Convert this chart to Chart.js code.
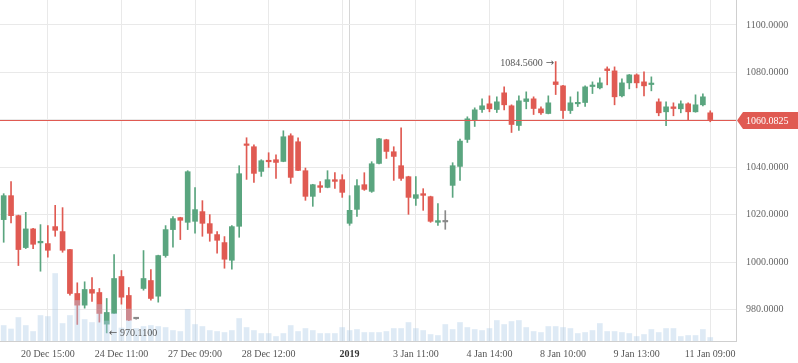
<!DOCTYPE html>
<html>
<head>
<meta charset="utf-8">
<script src="https://cdn.jsdelivr.net/npm/chart.js@4.4.1/dist/chart.umd.min.js"></script>
<style>
html,body{margin:0;padding:0;background:#fff;}
canvas{display:block;}
</style>
</head>
<body>
<canvas id="c" width="798" height="363"></canvas>
<script>
// ---- data ----
const slotCount = 100;
const categories = Array.from({length: slotCount}, (_, i) => String(i));

const tickIndex = [6, 16, 26, 36, 46, 47, 56, 66, 76, 86, 96];
const tickText  = ['20 Dec 15:00', '24 Dec 11:00', '27 Dec 09:00', '28 Dec 12:00', '', '2019',
                   '3 Jan 11:00', '4 Jan 14:00', '8 Jan 10:00', '9 Jan 13:00', '11 Jan 09:00'];
const yearTickIndex = 47;
const yTicks = [980, 1000, 1020, 1040, 1060, 1080, 1100];

const open = [
1017.90,1028.00,1019.58,1006.11,1013.98,1008.09,1007.79,1014.95,1012.85,1005.27,
986.74,981.82,988.43,987.16,973.81,978.32,993.90,985.90,976.09,988.85,
992.21,985.60,1002.74,1013.69,1018.74,1016.76,1017.18,1021.27,1016.21,1011.58,
1008.21,1000.76,1015.08,1049.48,1048.64,1038.24,1042.74,1043.16,1042.44,1053.27,
1050.74,1038.53,1027.71,1032.21,1031.50,1034.74,1034.74,1016.34,1022.23,1032.63,
1029.81,1041.60,1051.58,1046.53,1040.64,1036.00,1026.86,1028.84,1027.58,1016.76,
1016.93,1032.34,1040.34,1051.71,1060.00,1064.34,1066.74,1064.34,1071.37,1065.90,
1057.60,1067.71,1068.84,1064.63,1062.66,1076.00,1074.32,1063.92,1066.74,1067.29,
1074.03,1073.47,1081.47,1080.63,1070.11,1075.58,1078.95,1076.00,1074.87,1067.58,
1063.37,1065.47,1064.63,1066.74,1063.37,1066.32,1062.95
];
const high = [
1028.84,1033.90,1019.80,1020.97,1014.20,1015.79,1015.37,1023.92,1022.95,1005.40,
991.25,991.67,993.48,988.85,984.64,1003.16,996.43,989.27,976.30,1004.85,
996.85,1002.90,1015.37,1019.16,1018.90,1038.53,1031.37,1025.90,1020.00,1012.85,
1010.74,1015.37,1040.64,1052.43,1049.48,1043.16,1046.11,1045.27,1055.37,1054.11,
1052.43,1039.66,1032.80,1033.90,1038.53,1037.69,1036.84,1028.00,1034.74,1037.69,
1042.32,1052.20,1051.80,1048.64,1056.63,1036.20,1036.00,1030.95,1027.80,1024.63,
1021.69,1041.90,1051.87,1061.26,1065.05,1068.84,1070.11,1069.69,1073.89,1066.32,
1070.11,1071.79,1069.69,1065.47,1070.11,1084.56,1074.50,1069.69,1071.79,1074.32,
1076.00,1077.68,1082.32,1082.32,1077.26,1079.10,1079.37,1080.21,1078.11,1068.84,
1067.58,1067.16,1068.00,1067.16,1070.53,1070.95,1063.79
];
const low = [
1008.34,1016.51,998.53,1005.69,1005.69,996.13,1002.03,1010.87,1004.13,986.03,
973.69,980.55,983.37,974.66,970.11,978.20,982.24,975.30,975.90,988.13,
983.92,983.08,1002.03,1006.24,1009.48,1013.69,1012.13,1010.87,1008.76,1003.71,
997.39,996.97,1010.45,1034.87,1033.60,1036.13,1039.92,1035.29,1042.30,1033.18,
1038.50,1026.03,1023.50,1029.39,1031.30,1031.07,1027.28,1015.50,1019.29,1030.23,
1029.39,1041.40,1043.71,1034.44,1034.44,1020.13,1023.92,1021.81,1016.76,1015.50,
1013.81,1027.28,1034.44,1050.44,1057.18,1063.07,1063.37,1063.07,1064.21,1054.65,
1055.50,1064.63,1062.23,1062.23,1062.50,1070.65,1060.55,1062.66,1065.60,1065.60,
1071.07,1073.05,1074.74,1066.32,1069.69,1073.05,1073.47,1070.11,1072.21,1061.69,
1057.48,1061.69,1062.95,1060.00,1063.20,1065.90,1059.16
];
const close = [
1028.00,1019.58,1005.27,1013.98,1007.50,1008.76,1004.97,1013.39,1004.97,986.74,
981.82,988.43,986.87,978.32,978.74,993.06,985.18,975.50,976.09,993.06,
984.64,1002.74,1013.69,1018.32,1017.60,1038.11,1022.11,1016.34,1012.13,1009.18,
1001.18,1014.95,1037.27,1049.20,1037.40,1042.74,1042.30,1042.02,1052.85,1035.71,
1038.65,1027.71,1032.63,1031.50,1034.74,1034.03,1029.39,1021.81,1032.21,1030.65,
1041.47,1052.00,1046.66,1044.55,1035.29,1027.28,1028.42,1028.13,1017.18,1017.47,
1016.93,1040.64,1051.03,1060.42,1064.21,1065.90,1064.63,1067.58,1066.32,1058.02,
1068.00,1068.84,1064.76,1062.95,1067.16,1074.87,1063.92,1067.16,1067.16,1073.89,
1074.32,1075.58,1080.76,1069.69,1075.58,1078.95,1075.58,1074.32,1075.45,1062.95,
1065.47,1064.76,1066.74,1063.37,1066.32,1069.69,1060.0825
];
const volume = [
15.5,12,23.5,15.5,9.5,25.5,24.5,67.5,17.5,25.5,
40.5,21.5,18.5,36.5,20,27.5,13,32,12.5,14.5,
15.5,14.5,13.5,10.5,9.5,31.5,16.5,14.5,10.5,9.5,
8.5,10.5,22.5,13.5,10.5,7.5,7.5,4.5,7.5,15.5,
9.5,12.5,10.5,7.5,7.5,7.5,13.5,10.5,11.5,8.5,
8.5,8.5,9.5,12.5,12.5,18.5,12.5,10.5,6.5,5.5,
16.5,11.5,18.5,13.5,11.5,10.5,12.5,20.5,16.5,19.5,
20.5,13.5,9.5,8.5,14.5,14.5,13.5,12.5,7.5,8.5,
10.5,17.5,9.5,9.5,8.5,7.5,4.5,6.5,11.5,8.5,
12.5,12.5,4.5,5.5,5.5,11.5,3.5
];
const volumeAxisMax = 341;
const priceMin = 966.7, priceMax = 1110.53;

// ---- styles ----
const UP = '#5aa57f', DOWN = '#e05a52', FLAT = '#8a8a8a';
const FONT = '"Liberation Serif", "Times New Roman", serif';
const candleColor = open.map((o, i) => close[i] > o ? UP : (close[i] < o ? DOWN : FLAT));

const tickMap = {};
tickIndex.forEach((ix, k) => tickMap[ix] = tickText[k]);

function noPad(s) {
  s.paddingTop = 0; s.paddingBottom = 0; s.paddingLeft = 0; s.paddingRight = 0;
}

const marksPlugin = {
  id: 'marks',
  afterDatasetsDraw(chart) {
    const {ctx, chartArea, scales: {x, y}} = chart;
    const last = close[close.length - 1];
    const py = Math.round(y.getPixelForValue(last)) + 0.5;
    ctx.save();
    ctx.strokeStyle = DOWN;
    ctx.lineWidth = 1;
    ctx.beginPath();
    ctx.moveTo(chartArea.left, py);
    ctx.lineTo(chartArea.right, py);
    ctx.stroke();
    const lx = chartArea.right + 1, rx = chart.width;
    ctx.fillStyle = DOWN;
    ctx.beginPath();
    ctx.moveTo(lx, py);
    ctx.lineTo(lx + 6, py - 8.5);
    ctx.lineTo(rx, py - 8.5);
    ctx.lineTo(rx, py + 8.5);
    ctx.lineTo(lx + 6, py + 8.5);
    ctx.closePath();
    ctx.fill();
    ctx.fillStyle = '#fff';
    ctx.font = '10px ' + FONT;
    ctx.textAlign = 'left';
    ctx.textBaseline = 'middle';
    ctx.fillText(last.toFixed(4), chartArea.right + 10, py + 0.5);

    let hi = 0, lo = 0;
    high.forEach((v, i) => { if (v > high[hi]) hi = i; });
    low.forEach((v, i) => { if (v < low[lo]) lo = i; });
    ctx.fillStyle = '#555';
    const arrowFont = '10px "DejaVu Sans", sans-serif';
    // max
    const hx = x.getPixelForValue(hi), hy = y.getPixelForValue(high[hi]) + 1.5;
    ctx.font = arrowFont;
    ctx.textAlign = 'right';
    ctx.fillText('\u2192', hx - 1.5, hy);
    const aw = ctx.measureText('\u2192').width;
    ctx.font = '10px ' + FONT;
    ctx.fillText(high[hi].toFixed(4), hx - 1.5 - aw - 3, hy);
    // min
    const lxp = x.getPixelForValue(lo), ly = y.getPixelForValue(low[lo]) + 0.5;
    ctx.font = arrowFont;
    ctx.textAlign = 'left';
    ctx.fillText('\u2190', lxp + 2, ly);
    const bw = ctx.measureText('\u2190').width;
    ctx.font = '10px ' + FONT;
    ctx.fillText(low[lo].toFixed(4), lxp + 2 + bw + 3, ly);
    ctx.restore();
  }
};

new Chart(document.getElementById('c'), {
  type: 'bar',
  data: {
    labels: categories,
    datasets: [
      {
        label: 'volume',
        data: volume,
        yAxisID: 'yv',
        backgroundColor: 'rgba(176,204,230,0.42)',
        barThickness: 5,
        grouped: false,
        order: 0
      },
      {
        label: 'body',
        data: open.map((o, i) => [o, close[i]]),
        yAxisID: 'y',
        backgroundColor: candleColor,
        barThickness: 5,
        minBarLength: 1.5,
        grouped: false,
        order: 1
      },
      {
        label: 'wick',
        data: low.map((l, i) => [l, high[i]]),
        yAxisID: 'y',
        backgroundColor: candleColor,
        barThickness: 1,
        grouped: false,
        order: 2
      }
    ]
  },
  options: {
    responsive: false,
    animation: false,
    layout: {padding: 0},
    plugins: {legend: {display: false}, tooltip: {enabled: false}},
    scales: {
      x: {
        offset: true,
        grid: {
          offset: false,
          drawTicks: false,
          color: c => c.index === yearTickIndex ? '#d6d6d6' : (c.index in tickMap ? '#e9e9e9' : 'rgba(0,0,0,0)')
        },
        border: {color: '#cfcfcf'},
        ticks: {
          autoSkip: false,
          maxRotation: 0,
          minRotation: 0,
          padding: 7,
          color: c => c.index === yearTickIndex ? '#333' : '#555',
          font: c => ({family: FONT, size: 10, weight: c.index === yearTickIndex ? 'bold' : 'normal'}),
          callback: (v, i) => (i in tickMap ? tickMap[i] : '')
        },
        afterFit: s => { s.height = 22; noPad(s); }
      },
      y: {
        position: 'right',
        min: priceMin,
        max: priceMax,
        afterBuildTicks: s => { s.ticks = yTicks.map(v => ({value: v})); },
        grid: {color: '#e9e9e9', drawTicks: false},
        border: {color: '#cfcfcf'},
        ticks: {
          padding: 10,
          color: '#666',
          font: {family: FONT, size: 10},
          callback: v => Number(v).toFixed(4)
        },
        afterFit: s => { s.width = 62; noPad(s); }
      },
      yv: {
        display: false,
        min: 0,
        max: volumeAxisMax
      }
    }
  },
  plugins: [marksPlugin]
});
</script>
</body>
</html>
